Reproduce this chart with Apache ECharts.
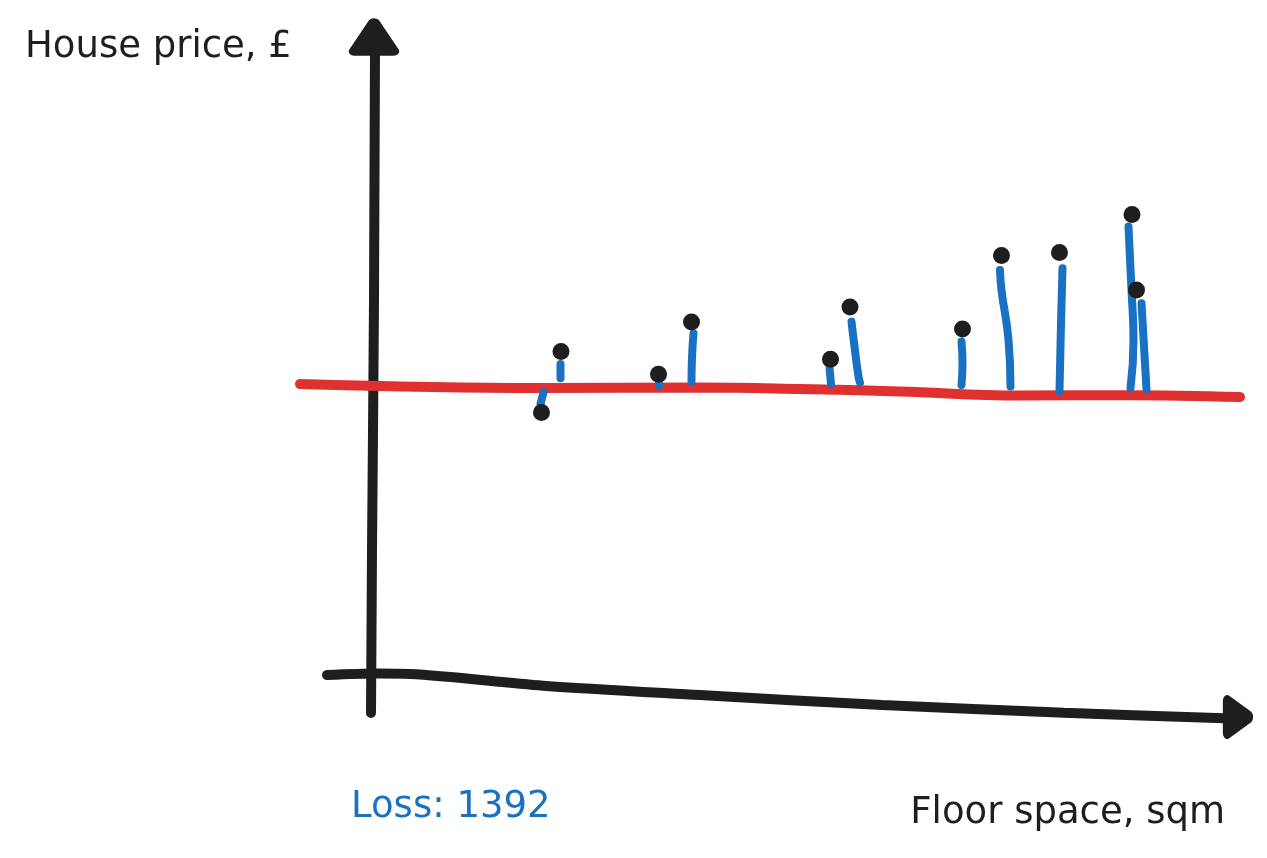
<!DOCTYPE html>
<html>
<head>
<meta charset="utf-8">
<script src="https://cdn.jsdelivr.net/npm/echarts@6/dist/echarts.min.js"></script>
<style>html,body{margin:0;padding:0;background:#fff}#c{width:1267px;height:858px}</style>
</head>
<body>
<div id="c"></div>
<script>
// Chart units: x = floor space (sqm), y = house price (£k, arbitrary scale)
const floorSpace = [34.1, 38.0, 57.5, 64.1, 91.9, 95.8, 118.3, 126.1, 137.7, 152.2, 153.1];
const housePrice = [132.2, 162.7, 151.4, 177.5, 158.9, 185.0, 174.0, 210.7, 212.2, 231.2, 193.5];

// hand-drawn fitted (red) line
const fitX = [-14.2, 33.8, 65.8, 85.8, 105.8, 129.8, 151.8, 173.8];
const fitY = [146.5, 144.5, 144.75, 144.0, 142.75, 140.75, 140.9, 140.0];

// hand-drawn residual strokes (blue), one list of [x, y] per point
const residuals = [
  [[34.5, 142.4], [33.9, 136.5]],
  [[37.9, 156.5], [37.9, 149.4]],
  [[57.6, 147.0], [57.6, 145.5]],
  [[64.5, 171.9], [64.2, 159.5], [64.1, 147.7]],
  [[91.7, 154.4], [92.0, 146.5]],
  [[96.1, 177.7], [96.7, 165.2], [97.5, 150.2], [97.8, 147.2]],
  [[118.1, 167.7], [118.3, 156.9], [118.1, 146.0]],
  [[125.8, 203.5], [126.1, 193.5], [127.5, 168.5], [127.9, 145.2]],
  [[138.3, 204.4], [138.0, 176.9], [137.7, 142.7]],
  [[151.5, 225.2], [152.1, 193.5], [152.5, 168.5], [151.9, 144.4]],
  [[154.1, 186.9], [154.6, 165.2], [155.1, 143.9]]
];

// hand-drawn axes
const yAxisStroke = [[0.8, 314.5], [0.6, 188.5], [0.2, 63.5], [0.0, -18.0]];
const xAxisStroke = [[-8.8, 1.0], [1.2, 1.75], [7.8, 1.5], [34.4, -4.35], [65.8, -9.0], [102.2, -14.0], [138.6, -17.85], [170.6, -20.65]];
const yArrowHead = [0.6, 320.0];
const xArrowHead = [173.4, -20.0];

const lossValue = 1392;

const BLACK = '#1e1e1e', RED = '#e03131', BLUE = '#1971c2';
const FONT = 'DejaVu Sans';

const series = [];
series.push({
  type: 'line', data: yAxisStroke, smooth: true, symbol: 'none', z: 1,
  lineStyle: { color: BLACK, width: 10, cap: 'round' }, silent: true
});
series.push({
  type: 'line', data: xAxisStroke, smooth: 0.3, symbol: 'none', z: 1,
  lineStyle: { color: BLACK, width: 10, cap: 'round' }, silent: true
});
series.push({
  type: 'scatter', data: [yArrowHead], symbol: 'triangle', symbolSize: [39, 29], z: 1,
  itemStyle: { color: BLACK, opacity: 1, borderColor: BLACK, borderWidth: 10, borderJoin: 'round' }, silent: true
});
series.push({
  type: 'scatter', data: [xArrowHead], symbol: 'triangle', symbolSize: [32, 22], symbolRotate: -90, z: 1,
  itemStyle: { color: BLACK, opacity: 1, borderColor: BLACK, borderWidth: 10, borderJoin: 'round' }, silent: true
});
series.push({
  type: 'line', data: fitX.map((x, i) => [x, fitY[i]]), smooth: 0.4, symbol: 'none', z: 2,
  lineStyle: { color: RED, width: 10, cap: 'round' }, silent: true
});
residuals.forEach(r => series.push({
  type: 'line', data: r, smooth: true, symbol: 'none', z: 3,
  lineStyle: { color: BLUE, width: 8, cap: 'round' }, silent: true
}));
series.push({
  type: 'scatter', data: floorSpace.map((x, i) => [x, housePrice[i]]), symbol: 'circle', symbolSize: 17, z: 4,
  itemStyle: { color: BLACK, opacity: 1 }, silent: true
});

const chart = echarts.init(document.getElementById('c'));
chart.setOption({
  backgroundColor: '#ffffff',
  animation: false,
  title: [
    { text: 'House price, £', left: 20, top: 24, textStyle: { fontFamily: FONT, fontSize: 37, fontWeight: 'normal', color: BLACK } },
    { text: 'Loss: ' + lossValue, left: 346, top: 784, textStyle: { fontFamily: FONT, fontSize: 37, fontWeight: 'normal', color: BLUE } },
    { text: 'Floor space, sqm', right: 37, top: 790, textStyle: { fontFamily: FONT, fontSize: 37, fontWeight: 'normal', color: BLACK } }
  ],
  grid: { left: 0, right: 0, top: 0, bottom: 0 },
  xAxis: { type: 'value', min: -74.2, max: 179.2, show: false },
  yAxis: { type: 'value', min: -90.5, max: 338.5, show: false },
  series: series
});
</script>
</body>
</html>
